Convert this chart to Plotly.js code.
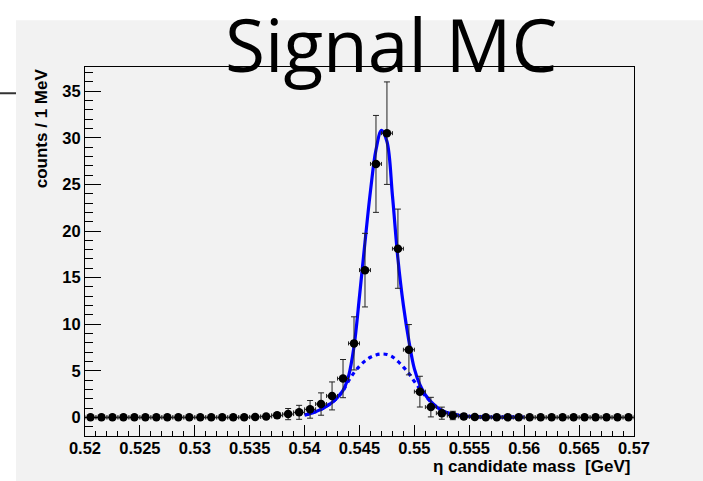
<!DOCTYPE html>
<html>
<head>
<meta charset="utf-8">
<script src="https://cdn.plot.ly/plotly-3.0.1.min.js"></script>
<style>html,body{margin:0;padding:0;background:#fff;}#chart{width:703px;height:481px;}</style>
</head>
<body>
<div id="chart"></div>
<script>
// Bin centres (1 MeV bins) in GeV
var binCenters = [0.5205,0.5215,0.5225,0.5235,0.5245,0.5255,0.5265,0.5275,0.5285,0.5295,
                  0.5305,0.5315,0.5325,0.5335,0.5345,0.5355,0.5365,0.5375,0.5385,0.5395,
                  0.5405,0.5415,0.5425,0.5435,0.5445,0.5455,0.5465,0.5475,0.5485,0.5495,
                  0.5505,0.5515,0.5525,0.5535,0.5545,0.5555,0.5565,0.5575,0.5585,0.5595,
                  0.5605,0.5615,0.5625,0.5635,0.5645,0.5655,0.5665,0.5675,0.5685,0.5695];
var counts = [0,0,0,0,0,0,0,0,0,0,
              0,0,0,0,0.02,0.05,0.1,0.22,0.35,0.54,
              0.86,1.43,2.3,4.16,7.94,15.8,27.2,30.5,18.1,7.26,
              2.76,1.1,0.45,0.2,0.1,0.05,0.02,0,0,0,
              0,0,0,0,0,0,0,0,0,0];
var countErrors = [0,0,0,0,0,0,0,0,0,0,
                   0,0,0,0,0,0.05,0.1,0.3,0.6,0.75,
                   0.95,1.2,1.5,2.05,2.85,3.95,5.2,5.5,4.25,2.7,
                   1.65,1.05,0.65,0.45,0.3,0.2,0.15,0,0,0,
                   0,0,0,0,0,0,0,0,0,0];
var binHalfWidth = 0.0005;

// Total fit curve (solid)
var fitX = [0.5400,0.5405,0.5410,0.5415,0.5420,0.5425,0.5430,0.5435,0.5440,0.5445,
            0.5450,0.5455,0.5460,0.5465,0.5470,0.5475,0.5480,0.5485,0.5490,0.5495,
            0.5500,0.5505,0.5510,0.5515,0.5520,0.5525,0.5530,0.5535,0.5540,0.5545,
            0.5550,0.5560,0.5570,0.5580,0.5600];
var fitTotal = [0.25,0.4,0.6,0.85,1.2,1.6,2.15,2.9,4.4,7.6,
                13.0,18.8,24.3,28.7,30.8,29.6,23.8,17.0,12.0,8.2,
                5.2,3.5,2.4,1.7,1.15,0.75,0.5,0.32,0.22,0.15,
                0.1,0.06,0.04,0.03,0.02];
// Broad component (dashed)
var fitBroad = [0.25,0.4,0.6,0.85,1.2,1.6,2.15,2.85,3.9,4.8,
                5.5,6.05,6.45,6.7,6.8,6.75,6.5,6.0,5.4,4.7,
                3.85,3.05,2.3,1.65,1.15,0.75,0.5,0.32,0.22,0.15,
                0.1,0.06,0.04,0.03,0.02];

var xTickVals = [0.52,0.525,0.53,0.535,0.54,0.545,0.55,0.555,0.56,0.565,0.57];
var xTickText = ["0.52","0.525","0.53","0.535","0.54","0.545","0.55","0.555","0.56","0.565","0.57"];
var yTickVals = [0,5,10,15,20,25,30,35];
var yTickText = ["0","5","10","15","20","25","30","35"];

var BG = '#f2f2f2';
var tickFont = {family:'"Liberation Sans", Arial, sans-serif', size:16.5, color:'#000', weight:'bold'};
var titleFont = {family:'"Liberation Sans", Arial, sans-serif', size:17, color:'#000', weight:'bold'};

var traces = [
  {x: fitX, y: fitBroad, mode:'lines', type:'scatter', hoverinfo:'skip',
   line:{color:'#0000ff', width:3.2, dash:'4px,4px', shape:'spline'}},
  {x: fitX, y: fitTotal, mode:'lines', type:'scatter', hoverinfo:'skip',
   line:{color:'#0000ff', width:3.2, shape:'spline'}},
  {x: binCenters, y: counts, mode:'markers', type:'scatter',
   marker:{color:'#000', size:8.5, symbol:'circle'},
   error_y:{type:'data', array: countErrors, visible:true, color:'#222', thickness:1, width:3},
   error_x:{type:'constant', value: binHalfWidth, visible:true, color:'#222', thickness:1, width:2}}
];

var layout = {
  width:703, height:481,
  margin:{l:85, r:69, t:67, b:45, pad:0},
  paper_bgcolor: BG,
  plot_bgcolor: BG,
  showlegend:false,
  xaxis:{
    range:[0.52,0.57], showgrid:false, zeroline:false,
    showline:true, mirror:true, linecolor:'#000', linewidth:1,
    ticks:'inside', ticklen:11, tickcolor:'#000', tickwidth:1,
    tickmode:'array', tickvals:xTickVals, ticktext:xTickText,
    tickfont: tickFont, ticklabelstandoff:-3,
    minor:{dtick:0.001, tick0:0.52, ticks:'inside', ticklen:5.5, tickcolor:'#000', tickwidth:1, showgrid:false}
  },
  yaxis:{
    range:[-2.0,37.6], showgrid:false, zeroline:false,
    showline:true, mirror:true, linecolor:'#000', linewidth:1,
    ticks:'inside', ticklen:16, tickcolor:'#000', tickwidth:1,
    tickmode:'array', tickvals:yTickVals, ticktext:yTickText,
    tickfont: tickFont,
    minor:{dtick:1, tick0:0, ticks:'inside', ticklen:8, tickcolor:'#000', tickwidth:1, showgrid:false}
  },
  shapes:[
    {type:'rect', xref:'paper', yref:'paper', x0:-0.2, x1:1.2, y0:(436-20)/369.3, y1:1.3,
     fillcolor:'#ffffff', line:{width:0}, layer:'below'},
    {type:'rect', xref:'paper', yref:'paper', x0:-0.2, x1:(16-85)/549, y0:-0.2, y1:1.3,
     fillcolor:'#ffffff', line:{width:0}, layer:'below'},
    {type:'line', xref:'paper', yref:'paper', x0:-0.2, x1:(16-85)/549, y0:(436-93)/369.3, y1:(436-93)/369.3,
     line:{color:'#333', width:2}}
  ],
  annotations:[
    {text:'Signal MC', xref:'paper', yref:'paper', x:(391-85)/549, y:(436-43)/369.3,
     xanchor:'center', yanchor:'middle', showarrow:false,
     font:{family:'"Open Sans", sans-serif', size:73, color:'#000'}},
    {text:'counts / 1 MeV', xref:'paper', yref:'paper', x:(41-85)/549, y:(436-128)/369.3,
     xanchor:'center', yanchor:'middle', textangle:-90, showarrow:false, font:titleFont},
    {text:'\u03b7 candidate mass  [GeV]', xref:'paper', yref:'paper', x:(632-85)/549, y:(436-467)/369.3,
     xanchor:'right', yanchor:'middle', showarrow:false, font:titleFont}
  ]
};

Plotly.newPlot('chart', traces, layout, {staticPlot:true, displayModeBar:false});
</script>
</body>
</html>
